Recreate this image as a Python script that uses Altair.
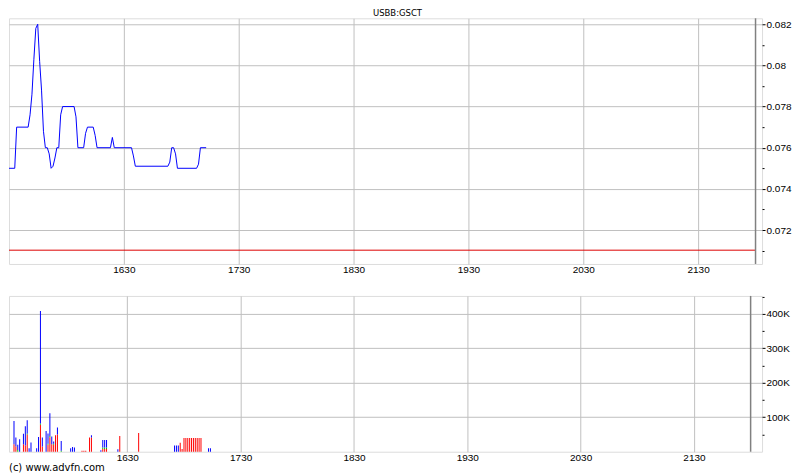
import altair as alt
import pandas as pd

# ---------------- data ----------------
title_text = "USBB:GSCT"
copyright_text = "(c) www.advfn.com"

price_times = ["15:30", "15:33", "15:34", "15:40", "15:41", "15:42", "15:43", "15:44",
               "15:45", "15:46", "15:47", "15:48", "15:49", "15:50", "15:51", "15:52",
               "15:53", "15:54", "15:55", "15:56", "15:57", "15:58", "16:04", "16:05",
               "16:06", "16:09", "16:10", "16:11", "16:14", "16:15", "16:16", "16:23",
               "16:24", "16:25", "16:34", "16:35", "16:36", "16:53", "16:54", "16:55",
               "16:56", "16:57", "16:58", "17:08", "17:09", "17:10", "17:13"]
price_values = [0.075, 0.075, 0.077, 0.077, 0.0776, 0.0786, 0.0803, 0.0818,
                0.082, 0.0802, 0.0788, 0.0768, 0.076, 0.076, 0.0757, 0.075,
                0.0751, 0.0755, 0.076, 0.076, 0.0776, 0.078, 0.078, 0.0775,
                0.076, 0.076, 0.0767, 0.077, 0.077, 0.0766, 0.076, 0.076,
                0.0765, 0.076, 0.076, 0.0756, 0.0751, 0.0751, 0.0753, 0.076,
                0.076, 0.0757, 0.075, 0.075, 0.0752, 0.076, 0.076]

prev_close = [0.07102]
prev_close_span = ["15:30", "22:00"]
session_end = ["22:00"]

vol_times = ["15:30", "15:31", "15:32", "15:33", "15:35", "15:36", "15:37", "15:38",
             "15:39", "15:42", "15:43", "15:44", "15:45", "15:47", "15:48", "15:49",
             "15:50", "15:51", "15:52", "15:53", "15:55", "16:00", "16:01", "16:02",
             "16:06", "16:07", "16:08", "16:10", "16:11", "16:16", "16:17", "16:18",
             "16:19", "16:25", "16:26", "16:36", "16:55", "16:56", "16:57", "16:58",
             "16:59", "17:00", "17:01", "17:02", "17:03", "17:04", "17:05", "17:06",
             "17:07", "17:08", "17:09", "17:13", "17:14"]
vol_red = [22000, 15000, 0, 0, 22000, 18000, 50000, 0,
           0, 0, 0, 78000, 15000, 0, 20000, 42000,
           22000, 20000, 48000, 50000, 0, 0, 0, 0,
           3000, 3000, 3000, 41000, 41000, 0, 8000, 8000,
           8000, 0, 46000, 54000, 0, 0, 0, 26000,
           8000, 40000, 40000, 40000, 40000, 40000, 40000, 40000,
           40000, 40000, 40000, 0, 0]
vol_green = [0, 0, 5000, 0, 0, 0, 3000, 0,
             0, 0, 0, 4000, 0, 0, 3000, 4000,
             0, 3000, 0, 0, 3000, 0, 0, 0,
             0, 0, 0, 0, 0, 0, 4000, 4000,
             4000, 0, 0, 0, 0, 0, 0, 0,
             0, 0, 0, 0, 0, 0, 0, 0,
             0, 0, 0, 0, 0]
vol_blue = [67000, 26000, 15000, 36000, 30000, 56000, 38000, 10000,
            27000, 10000, 43000, 326000, 26000, 60000, 30000, 66000,
            22000, 7000, 0, 20000, 28000, 10000, 14000, 12000,
            0, 0, 0, 0, 7000, 4000, 22000, 22000,
            22000, 7000, 0, 0, 18000, 18000, 18000, 0,
            0, 0, 0, 0, 0, 0, 0, 0,
            0, 0, 0, 10000, 10000]

x_tick_labels = ["1630", "1730", "1830", "1930", "2030", "2130"]
price_major = [0.072, 0.074, 0.076, 0.078, 0.08, 0.082]
price_minor = [0.071, 0.073, 0.075, 0.077, 0.079, 0.081]
vol_major = [100000, 200000, 300000, 400000]
vol_minor = [50000, 150000, 250000, 350000, 450000]


def to_min(s):
    s = s.replace(":", "")
    return int(s[:2]) * 60 + int(s[2:])


# ---------------- tables ----------------
price_df = pd.DataFrame({"t": [to_min(s) for s in price_times], "price": price_values})
prev_df = pd.DataFrame({"t": [to_min(prev_close_span[0])], "t2": [to_min(prev_close_span[1])],
                        "price": prev_close})
end_df = pd.DataFrame({"t": [to_min(s) for s in session_end]})

rows = []
for i, ts in enumerate(vol_times):
    for k, (name, arr) in enumerate([("red", vol_red), ("green", vol_green), ("blue", vol_blue)]):
        if arr[i] > 0:
            rows.append({"t": to_min(ts), "s": name, "k": k, "v": arr[i]})
vol_df = pd.DataFrame(rows)

x_ticks = [to_min(s) for s in x_tick_labels]
x_domain = [to_min("15:30"), to_min("15:30") + 393.4]

GRID = "#c0c0c0"
FONT = "DejaVu Sans"

x_axis = alt.Axis(values=x_ticks, grid=True, gridColor=GRID, domain=False,
                  ticks=False, labelPadding=1, title=None,
                  labelExpr="format(floor(datum.value/60)*100 + datum.value % 60, 'd')")
x_enc = alt.X("t:Q", scale=alt.Scale(domain=x_domain, nice=False, zero=False), axis=x_axis)

MAJ_P = "(datum.value*1000) % 2 < 0.5 || (datum.value*1000) % 2 > 1.5"
price_axis = alt.Axis(orient="right", values=sorted(price_major + price_minor), title=None,
                      domain=False, grid=True, gridColor=GRID,
                      gridOpacity={"condition": {"test": MAJ_P, "value": 1}, "value": 0},
                      tickSize={"condition": {"test": MAJ_P, "value": 3}, "value": 2},
                      tickColor="#000", labelPadding=1,
                      labelExpr="(" + MAJ_P + ") ? format(datum.value, '.3~f') : ''")
y_price = alt.Y("price:Q", scale=alt.Scale(domain=[0.07035, 0.08229], nice=False, zero=False),
                axis=price_axis)

price_line = alt.Chart(price_df).mark_line(color="#0000ff", strokeWidth=1, clip=True).encode(
    x=x_enc, y=y_price)
prev_rule = alt.Chart(prev_df).mark_rule(color="#dd0000", strokeWidth=1).encode(
    x=x_enc, x2="t2:Q", y=y_price)
end_rule_top = alt.Chart(end_df).mark_rule(color="#808080", strokeWidth=1.5).encode(x=x_enc)

top = alt.layer(price_line, prev_rule, end_rule_top).properties(
    width=754, height=246,
    title=alt.TitleParams(title_text, fontSize=8.5, font=FONT, fontWeight="normal",
                          anchor="middle", dx=12, offset=0, color="#000"))

MAJ_V = "datum.value % 100000 == 0"
vol_axis = alt.Axis(orient="right", values=sorted(vol_major + vol_minor), title=None,
                    domain=False, grid=True, gridColor=GRID,
                    gridOpacity={"condition": {"test": MAJ_V, "value": 1}, "value": 0},
                    tickSize={"condition": {"test": MAJ_V, "value": 3}, "value": 2},
                    tickColor="#000", labelPadding=1,
                    labelExpr="(" + MAJ_V + ") ? format(datum.value/1000, 'd') + 'K' : ''")

bars = alt.Chart(vol_df).mark_bar(size=1).encode(
    x=x_enc,
    y=alt.Y("v:Q", stack="zero", scale=alt.Scale(domain=[0, 452000], nice=False), axis=vol_axis),
    color=alt.Color("s:N", scale=alt.Scale(domain=["red", "green", "blue"],
                                           range=["#ff0000", "#00c000", "#0000ff"]), legend=None),
    order=alt.Order("k:Q", sort="ascending"))
end_rule_bot = alt.Chart(end_df).mark_rule(color="#808080", strokeWidth=1.5).encode(x=x_enc)

bottom = alt.layer(bars, end_rule_bot).properties(
    width=754, height=156,
    title=alt.TitleParams(copyright_text, orient="bottom", anchor="start", fontSize=10,
                          font=FONT, fontWeight="normal", offset=0, color="#000"))

chart = alt.vconcat(top, bottom, spacing=32, bounds="flush").properties(
    padding={"left": 0, "top": 0, "right": 0, "bottom": 0}
).configure_view(stroke="#000", strokeWidth=1).configure_axis(
    labelFont=FONT, labelFontSize=9.5, labelColor="#000"
).configure(background="white")

chart.save("out.html", embed_options={"renderer": "svg", "actions": False})
